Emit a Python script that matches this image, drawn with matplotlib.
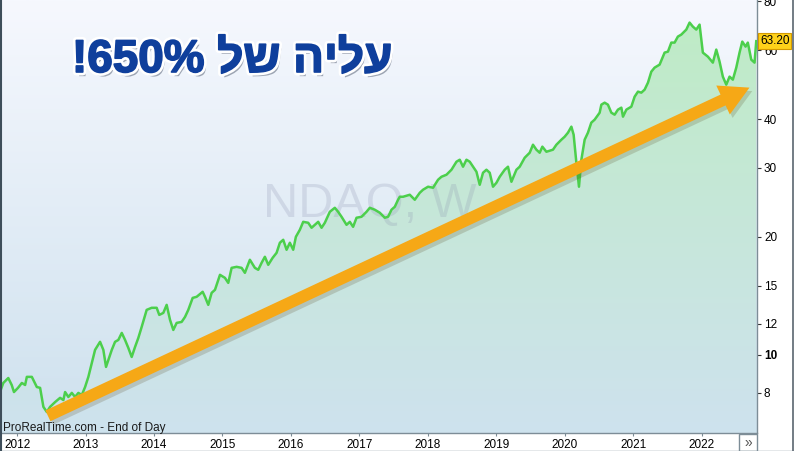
import matplotlib.pyplot as plt
import numpy as np
from matplotlib import patheffects as pe
from matplotlib.patches import Rectangle
from matplotlib.ticker import NullLocator

# weekly NDAQ close (decimal year, price)
years = [
    2011.752, 2011.798, 2011.871, 2011.921, 2011.954, 2012.013, 2012.069, 2012.117, 2012.142, 2012.215,
    2012.288, 2012.336, 2012.384, 2012.434, 2012.482, 2012.555, 2012.628, 2012.676, 2012.701, 2012.749,
    2012.799, 2012.847, 2012.895, 2012.945, 2012.993, 2013.041, 2013.091, 2013.139, 2013.212, 2013.260,
    2013.299, 2013.333, 2013.383, 2013.431, 2013.479, 2013.529, 2013.577, 2013.625, 2013.674, 2013.723,
    2013.771, 2013.820, 2013.893, 2013.966, 2014.039, 2014.077, 2014.136, 2014.185, 2014.234, 2014.282,
    2014.331, 2014.404, 2014.453, 2014.501, 2014.565, 2014.623, 2014.711, 2014.745, 2014.793, 2014.842,
    2014.891, 2014.964, 2015.036, 2015.085, 2015.134, 2015.207, 2015.280, 2015.328, 2015.401, 2015.474,
    2015.523, 2015.572, 2015.620, 2015.669, 2015.733, 2015.791, 2015.839, 2015.888, 2015.937, 2015.985,
    2016.034, 2016.073, 2016.131, 2016.180, 2016.253, 2016.302, 2016.350, 2016.399, 2016.448, 2016.496,
    2016.569, 2016.642, 2016.690, 2016.740, 2016.813, 2016.861, 2016.909, 2016.959, 2017.032, 2017.105,
    2017.153, 2017.226, 2017.299, 2017.372, 2017.420, 2017.470, 2017.518, 2017.566, 2017.591, 2017.639,
    2017.737, 2017.810, 2017.883, 2017.931, 2018.004, 2018.077, 2018.150, 2018.200, 2018.273, 2018.346,
    2018.419, 2018.467, 2018.515, 2018.565, 2018.613, 2018.661, 2018.711, 2018.759, 2018.807, 2018.857,
    2018.905, 2018.953, 2019.003, 2019.051, 2019.124, 2019.172, 2019.222, 2019.295, 2019.343, 2019.416,
    2019.489, 2019.537, 2019.587, 2019.635, 2019.674, 2019.733, 2019.829, 2019.879, 2019.952, 2020.000,
    2020.048, 2020.098, 2020.131, 2020.171, 2020.209, 2020.244, 2020.292, 2020.340, 2020.389, 2020.438,
    2020.511, 2020.536, 2020.584, 2020.632, 2020.682, 2020.730, 2020.778, 2020.828, 2020.852, 2020.901,
    2020.974, 2021.022, 2021.071, 2021.120, 2021.168, 2021.217, 2021.266, 2021.314, 2021.387, 2021.460,
    2021.509, 2021.558, 2021.606, 2021.654, 2021.704, 2021.777, 2021.825, 2021.873, 2021.923, 2021.971,
    2022.019, 2022.092, 2022.165, 2022.215, 2022.263, 2022.311, 2022.361, 2022.409, 2022.457, 2022.507,
    2022.555, 2022.595, 2022.643, 2022.676, 2022.726, 2022.774, 2022.799,
]
prices = [
    8.06, 8.48, 8.73, 8.38, 8.04, 8.24, 8.48, 8.38, 8.79, 8.79,
    8.28, 8.24, 7.37, 7.15, 7.37, 7.58, 7.77, 7.67, 8.04, 7.81,
    8.00, 7.81, 8.00, 7.90, 8.28, 8.79, 9.54, 10.30, 10.80, 10.30,
    9.32, 9.71, 10.30, 10.80, 10.92, 11.38, 10.92, 10.42, 9.88, 10.48,
    11.05, 11.79, 13.03, 13.19, 13.19, 12.65, 12.80, 13.42, 12.29, 11.58,
    12.07, 12.14, 12.50, 13.03, 13.98, 14.07, 14.49, 14.07, 13.42, 14.40,
    14.66, 16.01, 15.73, 15.27, 16.68, 16.78, 16.68, 16.20, 17.49, 16.68,
    16.49, 17.18, 17.80, 16.98, 17.69, 18.22, 19.33, 19.67, 18.55, 19.33,
    18.55, 20.02, 20.86, 21.86, 21.74, 21.11, 21.48, 21.86, 21.11, 21.74,
    23.19, 23.74, 23.19, 22.52, 21.48, 21.86, 21.23, 22.39, 22.52, 23.19,
    23.74, 23.47, 23.06, 22.39, 22.52, 23.47, 23.88, 24.89, 25.33, 25.33,
    25.63, 24.89, 25.93, 26.40, 26.87, 26.71, 27.99, 28.49, 28.83, 29.69,
    31.12, 31.49, 30.22, 31.49, 31.12, 30.22, 29.34, 27.18, 29.17, 29.69,
    29.17, 26.87, 27.50, 28.49, 29.69, 30.22, 27.66, 29.69, 30.22, 31.86,
    32.81, 34.39, 33.40, 32.81, 34.00, 33.00, 33.40, 34.39, 35.42, 36.05,
    36.91, 38.24, 36.48, 30.94, 26.87, 31.49, 35.42, 36.91, 39.15, 39.85,
    41.51, 43.52, 44.03, 43.52, 41.51, 41.03, 42.26, 42.76, 40.55, 42.26,
    43.01, 45.61, 46.98, 46.70, 47.53, 49.53, 52.84, 54.10, 55.06, 59.09,
    59.44, 62.67, 62.67, 64.92, 65.69, 67.65, 70.49, 68.84, 67.65, 69.66,
    59.09, 57.71, 55.71, 60.14, 56.04, 51.31, 48.95, 51.31, 50.41, 54.10,
    59.09, 63.04, 61.21, 62.67, 56.70, 55.71, 63.20,
]

year_ticks = list(range(2012, 2023))
price_ticks = [8, 10, 12, 15, 20, 30, 40, 60, 80]
last_price = 63.20
title = "עליה של 650%!"
watermark = "NDAQ, W"
source = "ProRealTime.com - End of Day"

# arrow annotation: from (year, price) to (year, price)
arrow_from = (2012.45, 6.99)
arrow_to = (2022.70, 48.1)

plt.rcParams["font.family"] = ["Liberation Sans", "DejaVu Sans"]


def rtl(text):
    # matplotlib has no bidi support, so lay the Hebrew line out by hand
    out = []
    for w in reversed(text.split(" ")):
        if any("\u0590" <= c <= "\u05ff" for c in w):
            out.append(w[::-1])
        else:
            core = w.rstrip("!")
            out.append(w[len(core):] + core)
    return " ".join(out)


W, H = 794, 451
plot_right, strip_h = 757, 18
fig = plt.figure(figsize=(W / 100, H / 100), dpi=100)
fig.patch.set_facecolor("white")
rect = [0, strip_h / H, plot_right / W, (H - strip_h) / H]

# background gradient
bg = fig.add_axes(rect, zorder=0)
bg.axis("off")
t = np.linspace(0, 1, 256)[:, None, None]
top_c = np.array([246, 248, 254]) / 255
bot_c = np.array([206, 225, 238]) / 255
bg.imshow(top_c * (1 - t) + bot_c * t, aspect="auto", extent=[0, 1, 0, 1])
bg.set_xlim(0, 1)
bg.set_ylim(0, 1)

ax = fig.add_axes(rect, zorder=1)
ax.patch.set_alpha(0)
ax.set_yscale("log")
ax.set_xlim(2011.75, 2022.81)
ax.set_ylim(6.32, 80.5)
ax.set_autoscale_on(False)

# area under the line, filled with a green -> blue gradient
poly = ax.fill_between(years, prices, 6.0, facecolor="none", edgecolor="none")
g_top = np.array([190, 236, 196]) / 255
g_bot = np.array([206, 226, 238]) / 255
im = ax.imshow(g_top * (1 - t) + g_bot * t, aspect="auto", extent=[0, 1, 0, 1],
               transform=ax.transAxes, zorder=1)
im.set_clip_path(poly.get_paths()[0], ax.transData)

ax.text(0.489, 0.527, watermark, transform=ax.transAxes, ha="center", va="center",
        fontsize=35, color="#8d94b0", alpha=0.24, zorder=2)

ax.plot(years, prices, color="#4ccf4c", lw=1.8, zorder=3)

arr = ax.annotate("", xy=arrow_to, xytext=arrow_from, zorder=4,
                  arrowprops=dict(arrowstyle="simple,head_length=2.1,head_width=2.3,tail_width=0.86",
                                  mutation_scale=10, fc="#f6a816", ec="none",
                                  shrinkA=0, shrinkB=0))
arr.arrow_patch.set_path_effects([pe.SimplePatchShadow(offset=(2, -2.5), alpha=0.18), pe.Normal()])

ax.text(72 / 757, 1 - 60 / 433, rtl(title), transform=ax.transAxes, ha="left", va="center",
        fontsize=33, fontweight="bold", color="#0f3f9c", zorder=5,
        path_effects=[pe.SimplePatchShadow(offset=(2, -3), alpha=0.35),
                      pe.Stroke(linewidth=5, foreground="white"),
                      pe.Stroke(linewidth=1.2, foreground="#0f3f9c"),
                      pe.Normal()])

ax.text(3 / 757, 2 / 433, source, transform=ax.transAxes, ha="left", va="baseline",
        fontsize=8.5, color="#1a1a1a", zorder=5)

# axes
ax.yaxis.tick_right()
ax.set_yticks(price_ticks)
ax.set_yticklabels([str(p) for p in price_ticks])
ax.yaxis.set_minor_locator(NullLocator())
ax.tick_params(axis="y", direction="out", length=3, width=0.8, color="#333333",
               pad=2, labelsize=8.5)
for lbl in ax.get_yticklabels():
    if lbl.get_text() == "10":
        lbl.set_fontweight("bold")
ax.set_xticks(year_ticks)
ax.set_xticklabels([str(y) for y in year_ticks])
ax.tick_params(axis="x", direction="out", length=2.5, width=0.8, color="#7a8a94",
               pad=1.5, labelsize=8.5)
ax.spines["top"].set_visible(False)
ax.spines["left"].set_color("#3e4e5a")
ax.spines["left"].set_linewidth(1.5)
for s in ("right", "bottom"):
    ax.spines[s].set_color("#7d8d97")
    ax.spines[s].set_linewidth(1)

ax.text(1 + 3 / 757, last_price, "63.20", transform=ax.get_yaxis_transform(),
        ha="left", va="center", fontsize=8.5, color="black", zorder=6, clip_on=False,
        bbox=dict(boxstyle="square,pad=0.15", fc="#ffd21a", ec="#d49a00", lw=0.8))

# bottom strip borders, the ">>" button and the right frame line
fig.add_artist(Rectangle((739 / W, 0.5 / H), 18 / W, 17 / H, transform=fig.transFigure,
                         fc="white", ec="#7d8d97", lw=1))
fig.text(748 / W, 8 / H, "»", ha="center", va="center", fontsize=10, color="#555555")
fig.add_artist(plt.Line2D([0, 1], [0.5 / H, 0.5 / H], transform=fig.transFigure,
                          color="#7d8d97", lw=1))
fig.add_artist(plt.Line2D([0.75 / W, 0.75 / W], [0, 1], transform=fig.transFigure,
                          color="#3e4e5a", lw=1.5))
fig.add_artist(plt.Line2D([792.5 / W, 792.5 / W], [0, 1], transform=fig.transFigure,
                          color="#5a6670", lw=1.2))

fig.savefig("out.png", dpi=100)
